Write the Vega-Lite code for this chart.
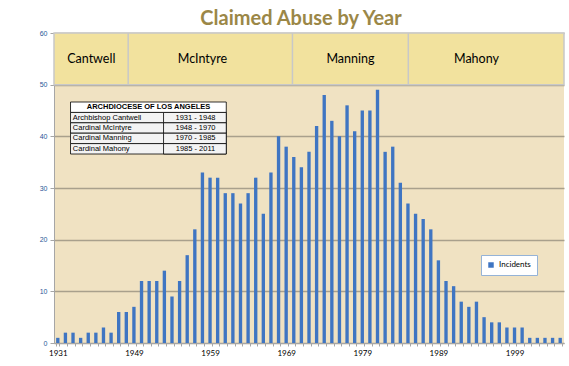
{
  "$schema": "https://vega.github.io/schema/vega-lite/v6.json",
  "width": 510,
  "height": 310,
  "autosize": {"type": "none"},
  "padding": {"left": 54, "top": 33, "right": 5, "bottom": 23},
  "background": "white",
  "title": {"text": "Claimed Abuse by Year", "font": "Lato", "fontSize": 20, "fontWeight": "bold", "color": "#9B8747", "anchor": "middle", "dx": -8, "offset": 0},
  "config": {
    "view": {"fill": "#F0E2C2", "stroke": null},
    "text": {"font": "Lato"}
  },
  "datasets": {
    "incidents": [
      {"year": "1931", "incidents": 1}, {"year": "1933", "incidents": 2}, {"year": "1935", "incidents": 2},
      {"year": "1936", "incidents": 1}, {"year": "1938", "incidents": 2}, {"year": "1940", "incidents": 2},
      {"year": "1942", "incidents": 3}, {"year": "1944", "incidents": 2}, {"year": "1946", "incidents": 6},
      {"year": "1948", "incidents": 6}, {"year": "1949", "incidents": 7}, {"year": "1950", "incidents": 12},
      {"year": "1951", "incidents": 12}, {"year": "1952", "incidents": 12}, {"year": "1953", "incidents": 14},
      {"year": "1954", "incidents": 9}, {"year": "1955", "incidents": 12}, {"year": "1956", "incidents": 17},
      {"year": "1957", "incidents": 22}, {"year": "1958", "incidents": 33}, {"year": "1959", "incidents": 32},
      {"year": "1960", "incidents": 32}, {"year": "1961", "incidents": 29}, {"year": "1962", "incidents": 29},
      {"year": "1963", "incidents": 27}, {"year": "1964", "incidents": 29}, {"year": "1965", "incidents": 32},
      {"year": "1966", "incidents": 25}, {"year": "1967", "incidents": 33}, {"year": "1968", "incidents": 40},
      {"year": "1969", "incidents": 38}, {"year": "1970", "incidents": 36}, {"year": "1971", "incidents": 34},
      {"year": "1972", "incidents": 37}, {"year": "1973", "incidents": 42}, {"year": "1974", "incidents": 48},
      {"year": "1975", "incidents": 43}, {"year": "1976", "incidents": 40}, {"year": "1977", "incidents": 46},
      {"year": "1978", "incidents": 41}, {"year": "1979", "incidents": 45}, {"year": "1980", "incidents": 45},
      {"year": "1981", "incidents": 49}, {"year": "1982", "incidents": 37}, {"year": "1983", "incidents": 38},
      {"year": "1984", "incidents": 31}, {"year": "1985", "incidents": 27}, {"year": "1986", "incidents": 25},
      {"year": "1987", "incidents": 24}, {"year": "1988", "incidents": 22}, {"year": "1989", "incidents": 16},
      {"year": "1990", "incidents": 12}, {"year": "1991", "incidents": 11}, {"year": "1992", "incidents": 8},
      {"year": "1993", "incidents": 7}, {"year": "1994", "incidents": 8}, {"year": "1995", "incidents": 5},
      {"year": "1996", "incidents": 4}, {"year": "1997", "incidents": 4}, {"year": "1998", "incidents": 3},
      {"year": "1999", "incidents": 3}, {"year": "2000", "incidents": 3}, {"year": "2001", "incidents": 1},
      {"year": "2002", "incidents": 1}, {"year": "2003", "incidents": 1}, {"year": "2004", "incidents": 1},
      {"year": "2005", "incidents": 1}
    ],
    "leaders": [
      {"leader": "Archbishop Cantwell", "term": "1931 - 1948"},
      {"leader": "Cardinal McIntyre", "term": "1948 - 1970"},
      {"leader": "Cardinal Manning", "term": "1970 - 1985"},
      {"leader": "Cardinal Mahony", "term": "1985 - 2011"}
    ]
  },
  "layer": [
    {
      "layer": [
        {
          "data": {"values": [{}]},
          "mark": {"type": "rect", "fill": "#F2E29E", "stroke": "#C8C8C8", "strokeWidth": 1.5},
          "encoding": {"y": {"datum": 50, "type": "quantitative"}, "y2": {"datum": 60}}
        },
        {
          "data": {"name": "incidents"},
          "mark": {"type": "bar"},
          "encoding": {
            "x": {
              "field": "year", "type": "ordinal",
              "scale": {"paddingInner": 0.56, "paddingOuter": 0.28},
              "axis": {
                "title": null, "labelAngle": 0, "grid": false,
                "domainColor": "#A6A6A6", "tickColor": "#A6A6A6", "tickSize": 3, "tickBand": "extent",
                "labelFont": "Lato", "labelFontSize": 8, "labelColor": "#000000", "labelPadding": 3,
                "labelOverlap": false,
                "labelExpr": "indexof(['1931','1949','1959','1969','1979','1989','1999'], datum.label) >= 0 ? datum.label : ''"
              }
            },
            "y": {
              "field": "incidents", "type": "quantitative",
              "scale": {"domain": [0, 60]},
              "axis": {
                "title": null, "values": [0, 10, 20, 30, 40, 50, 60],
                "grid": true, "gridColor": "#A9A08C", "gridWidth": 1.5,
                "domainColor": "#A6A6A6", "tickColor": "#A6A6A6", "tickSize": 4,
                "labelFont": "Liberation Sans", "labelFontSize": 7, "labelColor": "#2E5597", "labelPadding": 3
              }
            },
            "color": {
              "datum": "Incidents", "type": "nominal",
              "scale": {"range": ["#3F75C2"]},
              "legend": {
                "title": null, "orient": "none", "legendX": 427, "legendY": 222,
                "symbolType": "square", "symbolSize": 30, "labelFontSize": 8, "labelFont": "Lato",
                "labelColor": "#000000", "padding": 6, "fillColor": "white", "strokeColor": "#95B3D7", "cornerRadius": 0
              }
            }
          }
        },
        {
          "data": {"values": [{}]},
          "mark": {"type": "rule", "color": "#C8C8C8", "strokeWidth": 1.5},
          "encoding": {"x": {"datum": "1948", "type": "ordinal", "bandPosition": 1.06}, "y": {"datum": 50, "type": "quantitative"}, "y2": {"datum": 60}}
        },
        {
          "data": {"values": [{}]},
          "mark": {"type": "rule", "color": "#C8C8C8", "strokeWidth": 1.5},
          "encoding": {"x": {"datum": "1970", "type": "ordinal", "bandPosition": 0.1}, "y": {"datum": 50, "type": "quantitative"}, "y2": {"datum": 60}}
        },
        {
          "data": {"values": [{}]},
          "mark": {"type": "rule", "color": "#C8C8C8", "strokeWidth": 1.5},
          "encoding": {"x": {"datum": "1985", "type": "ordinal", "bandPosition": 0.6}, "y": {"datum": 50, "type": "quantitative"}, "y2": {"datum": 60}}
        },
        {
          "data": {"values": [{}]},
          "mark": {"type": "text", "fontSize": 12.5, "color": "#000000"},
          "encoding": {"x": {"datum": "1938", "type": "ordinal", "bandPosition": 1.4}, "y": {"datum": 55, "type": "quantitative"}, "text": {"value": "Cantwell"}}
        },
        {
          "data": {"values": [{}]},
          "mark": {"type": "text", "fontSize": 12.5, "color": "#000000"},
          "encoding": {"x": {"datum": "1958", "type": "ordinal", "bandPosition": 0.5}, "y": {"datum": 55, "type": "quantitative"}, "text": {"value": "McIntyre"}}
        },
        {
          "data": {"values": [{}]},
          "mark": {"type": "text", "fontSize": 12.5, "color": "#000000"},
          "encoding": {"x": {"datum": "1977", "type": "ordinal", "bandPosition": 1.5}, "y": {"datum": 55, "type": "quantitative"}, "text": {"value": "Manning"}}
        },
        {
          "data": {"values": [{}]},
          "mark": {"type": "text", "fontSize": 12.5, "color": "#000000"},
          "encoding": {"x": {"datum": "1994", "type": "ordinal", "bandPosition": 0.5}, "y": {"datum": 55, "type": "quantitative"}, "text": {"value": "Mahony"}}
        }
      ]
    },
    {
      "data": {"name": "leaders"},
      "layer": [
        {
          "mark": {"type": "rect", "fill": "#F3F3F3", "stroke": "#000000", "strokeWidth": 0.8},
          "encoding": {
            "x": {"datum": "1935", "type": "ordinal", "bandPosition": -0.25},
            "x2": {"datum": "1961", "bandPosition": 0.8},
            "y": {
              "field": "leader", "type": "nominal", "axis": null,
              "scale": {
                "type": "band",
                "domain": ["ARCHDIOCESE OF LOS ANGELES", "Archbishop Cantwell", "Cardinal McIntyre", "Cardinal Manning", "Cardinal Mahony"],
                "paddingInner": 0, "paddingOuter": 0, "range": [69, 121]
              }
            }
          }
        },
        {
          "mark": {"type": "rect", "fill": "#F3F3F3", "stroke": "#000000", "strokeWidth": 0.8},
          "encoding": {
            "x": {"datum": "1953", "type": "ordinal", "bandPosition": 0.25},
            "x2": {"datum": "1961", "bandPosition": 0.8},
            "y": {"field": "leader", "type": "nominal", "axis": null}
          }
        },
        {
          "data": {"values": [{}]},
          "mark": {"type": "rect", "fill": "#FFFFFF", "stroke": "#000000", "strokeWidth": 0.8},
          "encoding": {
            "x": {"datum": "1935", "type": "ordinal", "bandPosition": -0.25},
            "x2": {"datum": "1961", "bandPosition": 0.8},
            "y": {"datum": "ARCHDIOCESE OF LOS ANGELES", "type": "nominal", "axis": null}
          }
        },
        {
          "mark": {"type": "text", "font": "Liberation Sans", "fontSize": 7.5, "align": "left", "dx": 1.5, "color": "#000000"},
          "encoding": {
            "x": {"datum": "1935", "type": "ordinal", "bandPosition": 0},
            "y": {"field": "leader", "type": "nominal", "axis": null},
            "text": {"field": "leader"}
          }
        },
        {
          "mark": {"type": "text", "font": "Liberation Sans", "fontSize": 7.5, "align": "center", "color": "#000000"},
          "encoding": {
            "x": {"datum": "1957", "type": "ordinal", "bandPosition": 0.7},
            "y": {"field": "leader", "type": "nominal", "axis": null},
            "text": {"field": "term"}
          }
        },
        {
          "data": {"values": [{}]},
          "mark": {"type": "text", "font": "Liberation Sans", "fontSize": 7.5, "fontWeight": "bold", "align": "center", "color": "#000000"},
          "encoding": {
            "x": {"datum": "1951", "type": "ordinal", "bandPosition": 0.3},
            "y": {"datum": "ARCHDIOCESE OF LOS ANGELES", "type": "nominal", "axis": null},
            "text": {"value": "ARCHDIOCESE OF LOS ANGELES"}
          }
        }
      ]
    }
  ],
  "resolve": {"scale": {"y": "independent"}}
}
